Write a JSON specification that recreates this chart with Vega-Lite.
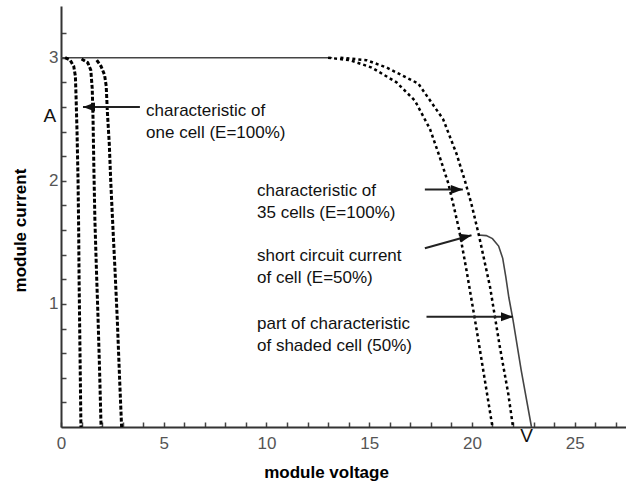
{
  "$schema": "https://vega.github.io/schema/vega-lite/v6.json",
  "width": 565,
  "height": 421,
  "autosize": {"type": "none"},
  "padding": {"left": 61, "top": 6, "right": 0, "bottom": 57},
  "background": "white",
  "config": {"view": {"stroke": null}, "font": "Liberation Sans"},
  "datasets": {
    "curves": [
      {"series": "top", "o": 0, "x": 0, "y": 3.0},
      {"series": "top", "o": 1, "x": 13.2, "y": 3.0},
      {"series": "cell1", "o": 0, "x": 0.2, "y": 3.0},
      {"series": "cell1", "o": 1, "x": 0.45, "y": 2.98},
      {"series": "cell1", "o": 2, "x": 0.62, "y": 2.93},
      {"series": "cell1", "o": 3, "x": 0.7, "y": 2.85},
      {"series": "cell1", "o": 4, "x": 0.73, "y": 2.7},
      {"series": "cell1", "o": 5, "x": 0.78, "y": 2.4},
      {"series": "cell1", "o": 6, "x": 0.83, "y": 2.0},
      {"series": "cell1", "o": 7, "x": 0.86, "y": 1.6},
      {"series": "cell1", "o": 8, "x": 0.88, "y": 1.2},
      {"series": "cell1", "o": 9, "x": 0.91, "y": 0.8},
      {"series": "cell1", "o": 10, "x": 0.94, "y": 0.4},
      {"series": "cell1", "o": 11, "x": 0.97, "y": 0},
      {"series": "cell2", "o": 0, "x": 1.0, "y": 2.99},
      {"series": "cell2", "o": 1, "x": 1.3, "y": 2.96},
      {"series": "cell2", "o": 2, "x": 1.45, "y": 2.9},
      {"series": "cell2", "o": 3, "x": 1.52, "y": 2.75},
      {"series": "cell2", "o": 4, "x": 1.56, "y": 2.5},
      {"series": "cell2", "o": 5, "x": 1.6, "y": 2.1},
      {"series": "cell2", "o": 6, "x": 1.65, "y": 1.68},
      {"series": "cell2", "o": 7, "x": 1.72, "y": 1.3},
      {"series": "cell2", "o": 8, "x": 1.8, "y": 0.9},
      {"series": "cell2", "o": 9, "x": 1.88, "y": 0.45},
      {"series": "cell2", "o": 10, "x": 1.95, "y": 0},
      {"series": "cell3", "o": 0, "x": 1.74, "y": 2.98},
      {"series": "cell3", "o": 1, "x": 1.95, "y": 2.93},
      {"series": "cell3", "o": 2, "x": 2.12, "y": 2.86},
      {"series": "cell3", "o": 3, "x": 2.2, "y": 2.77},
      {"series": "cell3", "o": 4, "x": 2.26, "y": 2.55},
      {"series": "cell3", "o": 5, "x": 2.35, "y": 2.3},
      {"series": "cell3", "o": 6, "x": 2.42, "y": 2.0},
      {"series": "cell3", "o": 7, "x": 2.51, "y": 1.68},
      {"series": "cell3", "o": 8, "x": 2.63, "y": 1.27},
      {"series": "cell3", "o": 9, "x": 2.74, "y": 0.87},
      {"series": "cell3", "o": 10, "x": 2.85, "y": 0.4},
      {"series": "cell3", "o": 11, "x": 2.95, "y": 0},
      {"series": "mod1", "o": 0, "x": 13.0, "y": 3.0},
      {"series": "mod1", "o": 1, "x": 14.06, "y": 2.98},
      {"series": "mod1", "o": 2, "x": 15.12, "y": 2.92},
      {"series": "mod1", "o": 3, "x": 16.33, "y": 2.8},
      {"series": "mod1", "o": 4, "x": 17.23, "y": 2.65},
      {"series": "mod1", "o": 5, "x": 17.96, "y": 2.42},
      {"series": "mod1", "o": 6, "x": 18.44, "y": 2.19},
      {"series": "mod1", "o": 7, "x": 18.85, "y": 1.98},
      {"series": "mod1", "o": 8, "x": 19.12, "y": 1.79},
      {"series": "mod1", "o": 9, "x": 19.38, "y": 1.6},
      {"series": "mod1", "o": 10, "x": 19.74, "y": 1.27},
      {"series": "mod1", "o": 11, "x": 20.23, "y": 0.79},
      {"series": "mod1", "o": 12, "x": 20.63, "y": 0.38},
      {"series": "mod1", "o": 13, "x": 21.0, "y": 0},
      {"series": "mod2", "o": 0, "x": 13.6, "y": 3.0},
      {"series": "mod2", "o": 1, "x": 14.87, "y": 2.98},
      {"series": "mod2", "o": 2, "x": 15.85, "y": 2.92},
      {"series": "mod2", "o": 3, "x": 17.39, "y": 2.79},
      {"series": "mod2", "o": 4, "x": 18.6, "y": 2.5},
      {"series": "mod2", "o": 5, "x": 19.25, "y": 2.22},
      {"series": "mod2", "o": 6, "x": 19.66, "y": 2.0},
      {"series": "mod2", "o": 7, "x": 19.98, "y": 1.81},
      {"series": "mod2", "o": 8, "x": 20.35, "y": 1.55},
      {"series": "mod2", "o": 9, "x": 20.88, "y": 1.14},
      {"series": "mod2", "o": 10, "x": 21.36, "y": 0.65},
      {"series": "mod2", "o": 11, "x": 21.77, "y": 0.27},
      {"series": "mod2", "o": 12, "x": 22.0, "y": 0},
      {"series": "shaded", "o": 0, "x": 20.3, "y": 1.56},
      {"series": "shaded", "o": 1, "x": 20.7, "y": 1.555},
      {"series": "shaded", "o": 2, "x": 21.0, "y": 1.53},
      {"series": "shaded", "o": 3, "x": 21.3, "y": 1.47},
      {"series": "shaded", "o": 4, "x": 21.5, "y": 1.37},
      {"series": "shaded", "o": 5, "x": 21.65, "y": 1.22},
      {"series": "shaded", "o": 6, "x": 21.8, "y": 1.05},
      {"series": "shaded", "o": 7, "x": 22.0, "y": 0.87},
      {"series": "shaded", "o": 8, "x": 22.4, "y": 0.46},
      {"series": "shaded", "o": 9, "x": 22.9, "y": 0}
    ],
    "arrows": [
      {"arrow": "one", "x": 1.07, "y": 2.6, "x2": 3.84, "y2": 2.6},
      {"arrow": "mod", "x": 19.56, "y": 1.93, "x2": 17.71, "y2": 1.93},
      {"arrow": "isc", "x": 19.98, "y": 1.557, "x2": 17.71, "y2": 1.452},
      {"arrow": "shade", "x": 22.0, "y": 0.895, "x2": 17.79, "y2": 0.895}
    ],
    "labels": [
      {"text": "characteristic of\none cell (E=100%)", "x": 4.14, "y": 2.57},
      {"text": "characteristic of\n35 cells (E=100%)", "x": 9.54, "y": 1.914},
      {"text": "short circuit current\nof cell (E=50%)", "x": 9.54, "y": 1.391},
      {"text": "part of characteristic\nof shaded cell (50%)", "x": 9.54, "y": 0.835}
    ],
    "units": [
      {"text": "A", "x": -0.54, "y": 2.53},
      {"text": "V", "x": 22.66, "y": -0.07}
    ]
  },
  "encoding": {
    "x": {
      "field": "x", "type": "quantitative",
      "scale": {"domain": [0, 27.5], "nice": false, "zero": false},
      "axis": {
        "values": [0,1,2,3,4,5,6,7,8,9,10,11,12,13,14,15,16,17,18,19,20,21,22,23,24,25,26,27],
        "labelExpr": "datum.value % 5 === 0 ? '' + datum.value : ''",
        "tickSize": -5,
        "tickColor": "#444", "tickWidth": 1.5,
        "domainColor": "#333", "domainWidth": 2,
        "labelFontSize": 17, "labelColor": "#555", "labelPadding": 13,
        "labelFlush": false, "labelOverlap": false, "labelBound": false,
        "grid": false,
        "title": "module voltage", "titleFontSize": 17, "titleFontWeight": "bold", "titleColor": "#000",
        "titleX": 265, "titleY": 45, "titleAlign": "center", "titleBaseline": "middle"
      }
    },
    "y": {
      "field": "y", "type": "quantitative",
      "scale": {"domain": [0, 3.42], "nice": false, "zero": false},
      "axis": {
        "values": [0.2,0.4,0.6,0.8,1,1.2,1.4,1.6,1.8,2,2.2,2.4,2.6,2.8,3,3.2],
        "labelExpr": "abs(datum.value - 1) < 0.01 ? '1' : abs(datum.value - 2) < 0.01 ? '2' : abs(datum.value - 3) < 0.01 ? '3' : ''",
        "tickSize": -5,
        "tickColor": "#444", "tickWidth": 1.5,
        "domainColor": "#333", "domainWidth": 2,
        "labelFontSize": 17, "labelColor": "#555", "labelPadding": 8,
        "labelFlush": false, "labelOverlap": false, "labelBound": false,
        "grid": false,
        "title": "module current", "titleFontSize": 17, "titleFontWeight": "bold", "titleColor": "#000",
        "titleX": -41, "titleY": 224, "titleAngle": -90, "titleAlign": "center", "titleBaseline": "middle"
      }
    }
  },
  "layer": [
    {
      "data": {"name": "curves"},
      "transform": [{"filter": "datum.series === 'top' || datum.series === 'shaded'"}],
      "mark": {"type": "line", "color": "#444", "strokeWidth": 1.6, "clip": false},
      "encoding": {"detail": {"field": "series"}, "order": {"field": "o"}}
    },
    {
      "data": {"name": "curves"},
      "transform": [{"filter": "indexof(datum.series, 'cell') === 0"}],
      "mark": {"type": "line", "color": "#000", "strokeWidth": 3, "strokeDash": [4, 2]},
      "encoding": {"detail": {"field": "series"}, "order": {"field": "o"}}
    },
    {
      "data": {"name": "curves"},
      "transform": [{"filter": "indexof(datum.series, 'mod') === 0"}],
      "mark": {"type": "line", "color": "#000", "strokeWidth": 2.5, "strokeDash": [3, 3]},
      "encoding": {"detail": {"field": "series"}, "order": {"field": "o"}}
    },
    {
      "data": {"name": "arrows"},
      "mark": {"type": "rule", "color": "#222", "strokeWidth": 2},
      "encoding": {"x2": {"field": "x2"}, "y2": {"field": "y2"}}
    },
    {
      "data": {"name": "arrows"},
      "transform": [{"filter": "datum.arrow === 'one'"}],
      "mark": {"type": "point", "shape": "M0,0L2,-0.75L2,0.75Z", "size": 144, "filled": true, "color": "#111", "opacity": 1}
    },
    {
      "data": {"name": "arrows"},
      "transform": [{"filter": "datum.arrow === 'mod' || datum.arrow === 'shade'"}],
      "mark": {"type": "point", "shape": "M0,0L-2,-0.75L-2,0.75Z", "size": 144, "filled": true, "color": "#111", "opacity": 1}
    },
    {
      "data": {"name": "arrows"},
      "transform": [{"filter": "datum.arrow === 'isc'"}],
      "mark": {"type": "point", "shape": "M0,0L-2,-0.75L-2,0.75Z", "size": 144, "angle": -14, "filled": true, "color": "#111", "opacity": 1}
    },
    {
      "data": {"name": "labels"},
      "mark": {"type": "text", "align": "left", "baseline": "middle", "fontSize": 17, "lineHeight": 22, "lineBreak": "\n", "color": "#111"},
      "encoding": {"text": {"field": "text"}}
    },
    {
      "data": {"name": "units"},
      "mark": {"type": "text", "align": "center", "baseline": "middle", "fontSize": 19, "color": "#111"},
      "encoding": {"text": {"field": "text"}}
    }
  ]
}
